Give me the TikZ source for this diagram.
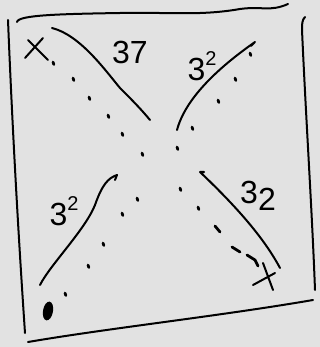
\documentclass[tikz,border=0pt]{standalone}
\usepackage{fontspec}
\setmainfont{Liberation Sans}
\definecolor{paper}{RGB}{226,226,226}
\tikzset{pen/.style={line width=2pt,line cap=round,line join=round},
  tick/.style={line width=2.8pt,line cap=round},
  lab/.style={inner sep=0pt,font=\fontsize{32}{32}\selectfont}}
\begin{document}
\begin{tikzpicture}[x=1pt,y=-1pt]
\fill[paper] (0,0) rectangle (320,347);
% frame
\draw[pen] (17,22) .. controls (18,15) and (60,14) .. (120,13) .. controls (170,12) and (200,16) .. (240,9) .. controls (262,6) and (270,12) .. (288,4);
\draw[pen] (8,20) .. controls (12,120) and (18,230) .. (25,333);
\draw[pen] (28,342) .. controls (110,328) and (220,316) .. (313,300);
\draw[pen] (305,17) .. controls (302,20) and (302,24) .. (302,30) .. controls (306,120) and (312,210) .. (315,290);
% curves
\draw[pen] (52,28) .. controls (80,35) and (105,70) .. (120,88) .. controls (132,100) and (140,108) .. (150,120);
\draw[pen] (177,130) .. controls (185,100) and (215,70) .. (255,42) -- (251,46);
\draw[pen] (40,285) .. controls (50,265) and (85,230) .. (95,205) .. controls (102,185) and (108,178) .. (117,175) -- (115,180);
\draw[pen] (280,268) .. controls (265,240) and (240,210) .. (200,172) -- (204,172);
% marks
\draw[pen] (25,58) -- (43,38) (28,40) -- (48,60);
\draw[pen] (253,285) -- (275,273) (263,263) -- (273,290);
\fill (48,311) ellipse [x radius=5pt,y radius=9.5pt,rotate=-10];
% dots
\foreach \px/\py in {53/62,73/78,89/97,108/115,122/133,142/153,177/147,180/188,198/207,65/293,88/265,103/243,122/213,137/198,192/127,218/100,235/78,250/53}
  \draw[tick] (\px,\py) -- ++(0.8,2.5);
\draw[tick] (215,226) -- (220,232);
\draw[tick] (232,247) -- (240,252);
\draw[tick] (247,255) -- (255,260) -- (258,266);
% labels
\node[lab] (ltl) at (130,52) {37};
\node[lab] (ltr) at (202,66) {3\raisebox{0.45em}{\fontsize{20}{20}\selectfont 2}};
\node[lab] (lbl) at (64,211) {3\raisebox{0.45em}{\fontsize{20}{20}\selectfont 2}};
\node[lab] (lbr) at (258,196) {3\raisebox{-0.2em}{2}};
\end{tikzpicture}
\end{document}
